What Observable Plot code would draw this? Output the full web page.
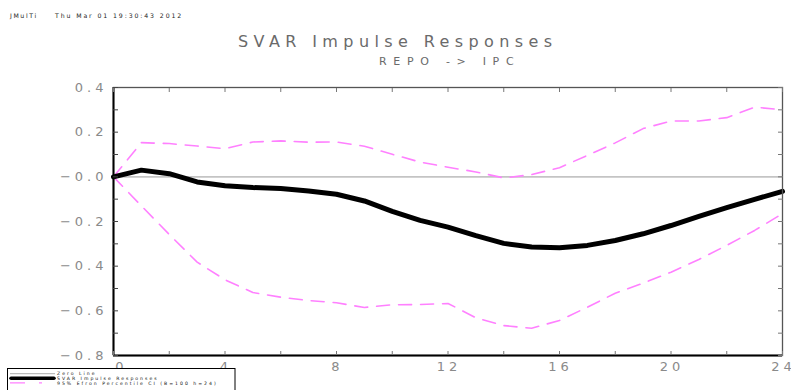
<!DOCTYPE html>
<html>
<head>
<meta charset="utf-8">
<script src="https://cdn.jsdelivr.net/npm/d3@7"></script>
<script src="https://cdn.jsdelivr.net/npm/@observablehq/plot@0.6"></script>
<style>
  html, body { margin: 0; padding: 0; background: #fff; }
  #wrap { position: relative; width: 791px; height: 390px; overflow: hidden; }
  #wrap svg.plt { position: absolute; left: 0; top: 0; font-family: "DejaVu Sans", sans-serif; }
  #overlay { position: absolute; left: 0; top: 0; font-family: "DejaVu Sans", sans-serif; }
  [aria-label="y-axis tick label"] text, [aria-label="x-axis tick label"] text { letter-spacing: 4px; }
</style>
</head>
<body>
<div id="wrap"></div>
<script>
// ---- data ----
const horizon = [0,1,2,3,4,5,6,7,8,9,10,11,12,13,14,15,16,17,18,19,20,21,22,23,24];
const irf     = [0, 0.030, 0.014, -0.023, -0.040, -0.048, -0.052, -0.063, -0.078, -0.108, -0.155, -0.195, -0.225, -0.263, -0.298, -0.314, -0.318, -0.307, -0.285, -0.255, -0.218, -0.177, -0.138, -0.101, -0.065];
const ciUpper = [0, 0.153, 0.149, 0.138, 0.126, 0.156, 0.161, 0.155, 0.156, 0.137, 0.101, 0.066, 0.043, 0.022, -0.005, 0.010, 0.041, 0.096, 0.152, 0.216, 0.250, 0.250, 0.265, 0.312, 0.300];
const ciLower = [0, -0.130, -0.258, -0.382, -0.461, -0.518, -0.539, -0.554, -0.564, -0.585, -0.573, -0.572, -0.567, -0.631, -0.666, -0.678, -0.643, -0.584, -0.521, -0.476, -0.427, -0.370, -0.307, -0.240, -0.165];

const xDomain = [0, 24];
const yDomain = [-0.8, 0.4];
const xTickValues = [0, 4, 8, 12, 16, 20, 24];
const xMinorTicks = [0, 2, 4, 6, 8, 10, 12, 14, 16, 18, 20, 22, 24];
const yTickValues = [0.4, 0.2, 0, -0.2, -0.4, -0.6, -0.8];
const yTickLabels = ["0.4", "0.2", "\u22120.0", "\u22120.2", "\u22120.4", "\u22120.6", "\u22120.8"];
const yMinorTicks = [0.4, 0.3, 0.2, 0.1, 0, -0.1, -0.2, -0.3, -0.4, -0.5, -0.6, -0.7, -0.8];

const titleText = "SVAR Impulse Responses";
const subtitleText = "REPO -> IPC";
const programText = "JMulTi";
const dateText = "Thu Mar 01 19:30:43 2012";
const legendLabels = ["Zero Line", "SVAR Impulse Responses", "95% Efron Percentile CI (B=100 h=24)"];

const pink = "#ff80ff";
const rows = horizon.map((h, i) => ({h, irf: irf[i], lo: ciLower[i], hi: ciUpper[i]}));

const labelStyle = {tickSize: 0, tickPadding: 6, fontSize: 13, fill: "#8a8a8a", label: null};

const chart = Plot.plot({
  width: 791,
  height: 390,
  marginLeft: 113,
  marginRight: 9,
  marginTop: 87,
  marginBottom: 35,
  className: "plt",
  style: {background: "transparent", overflow: "visible"},
  x: {domain: xDomain},
  y: {domain: yDomain},
  marks: [
    Plot.ruleY([0], {stroke: "#c4c4c4", strokeWidth: 1.6}),
    Plot.line(rows, {x: "h", y: "hi", stroke: pink, strokeWidth: 1.6, strokeDasharray: "13,9"}),
    Plot.line(rows, {x: "h", y: "lo", stroke: pink, strokeWidth: 1.6, strokeDasharray: "13,9"}),
    Plot.line(rows, {x: "h", y: "irf", stroke: "#000", strokeWidth: 5, strokeLinejoin: "round", strokeLinecap: "round"}),
    Plot.frame({stroke: "#555", strokeWidth: 1.3}),
    Plot.ruleX([xDomain[0]], {stroke: "#000", strokeWidth: 2}),
    Plot.ruleY([yDomain[0]], {stroke: "#000", strokeWidth: 2}),
    // inward minor ticks
    Plot.axisY(yMinorTicks, {anchor: "left", tickSize: -5, tickFormat: () => "", stroke: "#444", label: null}),
    Plot.axisY(yMinorTicks, {anchor: "right", tickSize: -5, tickFormat: () => "", stroke: "#777", label: null}),
    Plot.axisX(xMinorTicks, {anchor: "top", tickSize: -4, tickFormat: () => "", stroke: "#777", label: null}),
    Plot.axisX(xMinorTicks, {anchor: "bottom", tickSize: -4, tickFormat: () => "", stroke: "#777", label: null}),
    // labels
    Plot.axisY(yTickValues, {anchor: "left", ...labelStyle,
      tickFormat: d => yTickLabels[yTickValues.indexOf(d)]}),
    Plot.axisX(xTickValues.slice(0, 1), {anchor: "bottom", ...labelStyle, dx: 8, tickFormat: d => String(d)}),
    Plot.axisX(xTickValues.slice(1), {anchor: "bottom", ...labelStyle, dx: 1, tickFormat: d => String(d)})
  ]
});
const wrap = document.getElementById("wrap");
wrap.appendChild(chart);

// overlay: header texts and legend
const ov = d3.select(wrap).append("svg").attr("id", "overlay").attr("width", 791).attr("height", 390);
ov.append("text").attr("x", 10).attr("y", 18).attr("font-size", 6.2).attr("fill", "#222")
  .style("letter-spacing", "1.6px").text(programText);
ov.append("text").attr("x", 55).attr("y", 18).attr("font-size", 6.2).attr("fill", "#222")
  .style("letter-spacing", "1.9px").text(dateText);
ov.append("text").attr("x", 238).attr("y", 46.5).attr("font-size", 16).attr("fill", "#6a6a6a")
  .style("letter-spacing", "5.4px").text(titleText);
ov.append("text").attr("x", 379).attr("y", 64.5).attr("font-size", 11).attr("fill", "#6a6a6a")
  .style("letter-spacing", "6.7px").text(subtitleText);

const lg = ov.append("g");
lg.append("rect").attr("x", 7.5).attr("y", 368.5).attr("width", 227.5).attr("height", 30)
  .attr("fill", "#fff").attr("stroke", "#000").attr("stroke-width", 1);
const rowY = [373.6, 378.2, 382.8];
lg.append("line").attr("x1", 10).attr("x2", 55).attr("y1", rowY[0]).attr("y2", rowY[0]).attr("stroke", "#bbb").attr("stroke-width", 1.2);
lg.append("line").attr("x1", 11).attr("x2", 54).attr("y1", rowY[1]).attr("y2", rowY[1]).attr("stroke", "#000").attr("stroke-width", 3.5).attr("stroke-linecap", "round");
lg.append("line").attr("x1", 10).attr("x2", 42).attr("y1", rowY[2]).attr("y2", rowY[2]).attr("stroke", pink).attr("stroke-width", 1.3).attr("stroke-dasharray", "15,14");
legendLabels.forEach((t, i) => {
  lg.append("text").attr("x", 57).attr("y", rowY[i] + 1.7).attr("font-size", 4.6).attr("fill", "#111")
    .style("letter-spacing", "2px").text(t);
});
</script>
</body>
</html>
